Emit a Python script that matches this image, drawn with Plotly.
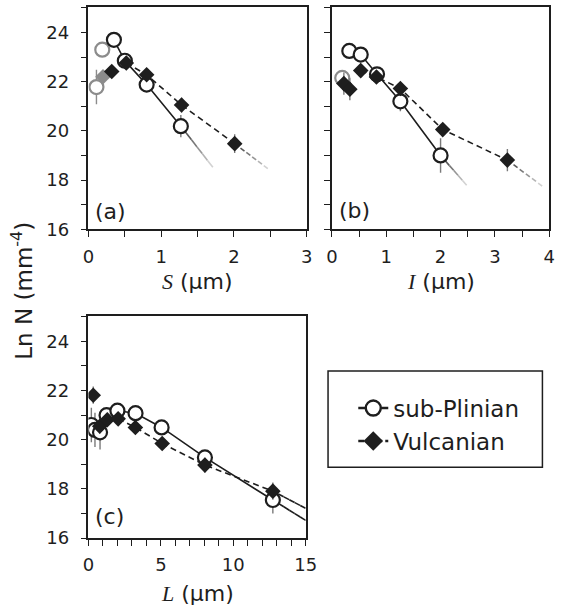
import numpy as np
import plotly.graph_objects as go

# ---- Panel (a): short axis S ----
S_sp_x = [0.35, 0.50, 0.80, 1.27]
S_sp_y = [23.70, 22.85, 21.88, 20.19]
S_sp_err = [0.30, 0.30, 0.30, 0.45]
S_sp_grey_x = [0.11, 0.19]
S_sp_grey_y = [21.78, 23.30]
S_sp_grey_err = [0.70, 0.30]
S_vu_x = [0.32, 0.52, 0.80, 1.28, 2.01]
S_vu_y = [22.41, 22.76, 22.28, 21.05, 19.48]
S_vu_err = [0.25, 0.25, 0.25, 0.30, 0.38]
S_vu_grey_x = [0.20]
S_vu_grey_y = [22.20]
S_sp_from, S_vu_from = 0, 1
S_sp_end = [1.71, 18.52]
S_vu_end = [2.49, 18.41]

# ---- Panel (b): intermediate axis I ----
I_sp_x = [0.32, 0.53, 0.83, 1.26, 2.00]
I_sp_y = [23.25, 23.10, 22.30, 21.20, 19.00]
I_sp_err = [0.30, 0.30, 0.30, 0.40, 0.70]
I_sp_grey_x = [0.19]
I_sp_grey_y = [22.15]
I_sp_grey_err = [0.30]
I_vu_x = [0.22, 0.33, 0.53, 0.82, 1.26, 2.04, 3.23]
I_vu_y = [21.92, 21.69, 22.45, 22.19, 21.72, 20.05, 18.81]
I_vu_err = [0.45, 0.45, 0.25, 0.25, 0.25, 0.25, 0.45]
I_sp_from, I_vu_from = 0, 2
I_sp_end = [2.48, 17.79]
I_vu_end = [3.91, 17.69]

# ---- Panel (c): long axis L ----
L_sp_x = [0.20, 0.45, 0.80, 1.25, 2.00, 3.25, 5.05, 8.04, 12.73]
L_sp_y = [20.60, 20.40, 20.30, 21.00, 21.18, 21.08, 20.50, 19.28, 17.55]
L_sp_err = [0.70, 0.70, 0.70, 0.30, 0.30, 0.30, 0.30, 0.30, 0.55]
L_vu_x = [0.33, 0.78, 1.30, 2.05, 3.24, 5.09, 8.04, 12.73]
L_vu_y = [21.81, 20.55, 20.81, 20.85, 20.50, 19.85, 18.97, 17.91]
L_vu_err = [0.35, 0.30, 0.25, 0.25, 0.25, 0.25, 0.30, 0.35]
L_sp_from, L_vu_from = 4, 3
L_sp_end = [15.0, 16.72]
L_vu_end = [15.0, 17.21]

SERIES_NAMES = ["sub-Plinian", "Vulcanian"]

W, H = 567, 616
SANS = "DejaVu Sans, Arial, sans-serif"
SERIF = "Liberation Serif, Times New Roman, serif"
INK = "#1e1e1e"
ERR = "#7a7a7a"

fig = go.Figure()


def add_panel(ax, sp, vu, fade):
    xa = "x" if ax == 1 else f"x{ax}"
    ya = "y" if ax == 1 else f"y{ax}"
    # trend lines from the size-distribution peak, fading beyond the last point
    for (xs, ys, start, end, dash) in [
        (sp[0], sp[1], sp[3], sp[4], "solid"),
        (vu[0], vu[1], vu[3], vu[4], "6px,4px"),
    ]:
        fig.add_trace(go.Scatter(
            x=xs[start:], y=ys[start:], xaxis=xa, yaxis=ya, mode="lines",
            line=dict(color=INK, width=1.6, dash=dash),
            showlegend=False, hoverinfo="skip"))
        n = 6
        tx = np.linspace(xs[-1], end[0], n + 1)
        ty = np.linspace(ys[-1], end[1], n + 1)
        for k in range(n):
            g = int(30 + 180 * (k + 1) / n) if fade else 30
            fig.add_trace(go.Scatter(
                x=tx[k:k + 2], y=ty[k:k + 2], xaxis=xa, yaxis=ya, mode="lines",
                line=dict(color=f"rgb({g},{g},{g})", width=1.6,
                          dash="solid" if dash == "solid" else ("5px,4px" if fade else dash)),
                showlegend=False, hoverinfo="skip"))
    # grey (excluded) points
    if sp[5] is not None:
        fig.add_trace(go.Scatter(
            x=sp[5], y=sp[6], xaxis=xa, yaxis=ya, mode="markers",
            marker=dict(symbol="circle", size=14, color="white",
                        line=dict(color="#8c8c8c", width=2.2)),
            error_y=dict(type="data", array=sp[7], color="#8c8c8c", thickness=1.4, width=0),
            showlegend=False, hoverinfo="skip"))
    if vu[5] is not None:
        fig.add_trace(go.Scatter(
            x=vu[5], y=vu[6], xaxis=xa, yaxis=ya, mode="markers",
            marker=dict(symbol="diamond", size=12, color="#8c8c8c", line=dict(width=0)),
            showlegend=False, hoverinfo="skip"))
    # measured points
    fig.add_trace(go.Scatter(
        x=sp[0], y=sp[1], xaxis=xa, yaxis=ya, mode="markers",
        marker=dict(symbol="circle", size=14, color="white",
                    line=dict(color=INK, width=2.2)),
        error_y=dict(type="data", array=sp[2], color=ERR, thickness=1.4, width=0),
        showlegend=False, hoverinfo="skip"))
    fig.add_trace(go.Scatter(
        x=vu[0], y=vu[1], xaxis=xa, yaxis=ya, mode="markers",
        marker=dict(symbol="diamond", size=12, color=INK, line=dict(width=0)),
        error_y=dict(type="data", array=vu[2], color=ERR, thickness=1.4, width=0),
        showlegend=False, hoverinfo="skip"))


add_panel(1,
          (S_sp_x, S_sp_y, S_sp_err, S_sp_from, S_sp_end, S_sp_grey_x, S_sp_grey_y, S_sp_grey_err),
          (S_vu_x, S_vu_y, S_vu_err, S_vu_from, S_vu_end, S_vu_grey_x, S_vu_grey_y),
          fade=True)
add_panel(2,
          (I_sp_x, I_sp_y, I_sp_err, I_sp_from, I_sp_end, I_sp_grey_x, I_sp_grey_y, I_sp_grey_err),
          (I_vu_x, I_vu_y, I_vu_err, I_vu_from, I_vu_end, None, None),
          fade=True)
add_panel(3,
          (L_sp_x, L_sp_y, L_sp_err, L_sp_from, L_sp_end, None, None, None),
          (L_vu_x, L_vu_y, L_vu_err, L_vu_from, L_vu_end, None, None),
          fade=False)

# legend entries
fig.add_trace(go.Scatter(
    x=[None], y=[None], mode="lines+markers", name=SERIES_NAMES[0],
    line=dict(color=INK, width=2.4),
    marker=dict(symbol="circle", size=15, color="white", line=dict(color=INK, width=2.4))))
fig.add_trace(go.Scatter(
    x=[None], y=[None], mode="lines+markers", name=SERIES_NAMES[1],
    line=dict(color=INK, width=2.4, dash="6px,3px"),
    marker=dict(symbol="diamond", size=15, color=INK, line=dict(width=0))))


def px_x(p):
    return p / W


def px_y(p):
    return 1 - p / H


axis_common = dict(
    showline=True, linecolor=INK, linewidth=1.5, mirror=True,
    ticks="outside", ticklen=6, tickwidth=1.2, tickcolor=INK,
    showgrid=False, zeroline=False,
    tickfont=dict(family=SANS, size=18, color=INK),
)
x_common = dict(ticklabelstandoff=4, **axis_common)
y_common = dict(ticklabelstandoff=8, **axis_common)
minor_tick = dict(ticks="outside", ticklen=6, tickwidth=1.2, tickcolor=INK)

fig.update_layout(
    width=W, height=H, margin=dict(l=0, r=0, t=0, b=0),
    paper_bgcolor="white", plot_bgcolor="white",
    showlegend=True,
    legend=dict(
        x=px_x(358), y=px_y(393), xanchor="left", yanchor="top",
        borderwidth=0, bgcolor="rgba(0,0,0,0)",
        font=dict(family=SANS, size=23, color=INK),
        tracegroupgap=0,
    ),
    shapes=[dict(type="rect", xref="paper", yref="paper",
                 x0=px_x(332), x1=px_x(553), y0=px_y(475), y1=px_y(377),
                 line=dict(color=INK, width=1.5), fillcolor="rgba(0,0,0,0)",
                 layer="below")],
    xaxis=dict(domain=[px_x(85), px_x(310)], range=[0, 3], anchor="y",
               dtick=1, tick0=0, minor=dict(dtick=0.5, **minor_tick), **x_common),
    yaxis=dict(domain=[px_y(233), px_y(7)], range=[16, 25.04], anchor="x",
               dtick=2, tick0=16, minor=dict(dtick=1, **minor_tick), **y_common),
    xaxis2=dict(domain=[px_x(336), px_x(560)], range=[0, 4], anchor="y2",
                dtick=1, tick0=0, minor=dict(dtick=0.5, **minor_tick), **x_common),
    yaxis2=dict(domain=[px_y(233), px_y(7)], range=[16, 25.04], anchor="x2",
                dtick=2, tick0=16, showticklabels=False,
                minor=dict(dtick=1, **minor_tick), **y_common),
    xaxis3=dict(domain=[px_x(85), px_x(309)], range=[0, 15], anchor="y3",
                dtick=5, tick0=0, minor=dict(dtick=1, **minor_tick), **x_common),
    yaxis3=dict(domain=[px_y(547), px_y(321)], range=[16, 25.04], anchor="x3",
                dtick=2, tick0=16, minor=dict(dtick=1, **minor_tick), **y_common),
)

ann = []


def xtitle(letter, cx, cy):
    return dict(
        x=px_x(cx), y=px_y(cy), xref="paper", yref="paper", showarrow=False,
        text=f"<span style='font-family:{SERIF}'><i>{letter}</i></span> (µm)",
        font=dict(family=SANS, size=22, color=INK),
        xanchor="center", yanchor="middle")


ann.append(xtitle("S", 197, 286))
ann.append(xtitle("I", 448, 286))
ann.append(xtitle("L", 197, 603))
ann.append(dict(
    x=px_x(17), y=px_y(295), xref="paper", yref="paper", showarrow=False,
    text="Ln N (mm<sup>-4</sup>)",
    font=dict(family=SANS, size=23, color=INK), textangle=-90,
    xanchor="center", yanchor="middle"))
for tag, cx, cy in [("(a)", 108, 215), ("(b)", 359, 214), ("(c)", 107, 525)]:
    ann.append(dict(x=px_x(cx), y=px_y(cy), xref="paper", yref="paper",
                    showarrow=False, text=tag,
                    font=dict(family=SANS, size=22, color=INK),
                    xanchor="center", yanchor="middle"))
fig.update_layout(annotations=ann)

fig.write_html("out.html")
